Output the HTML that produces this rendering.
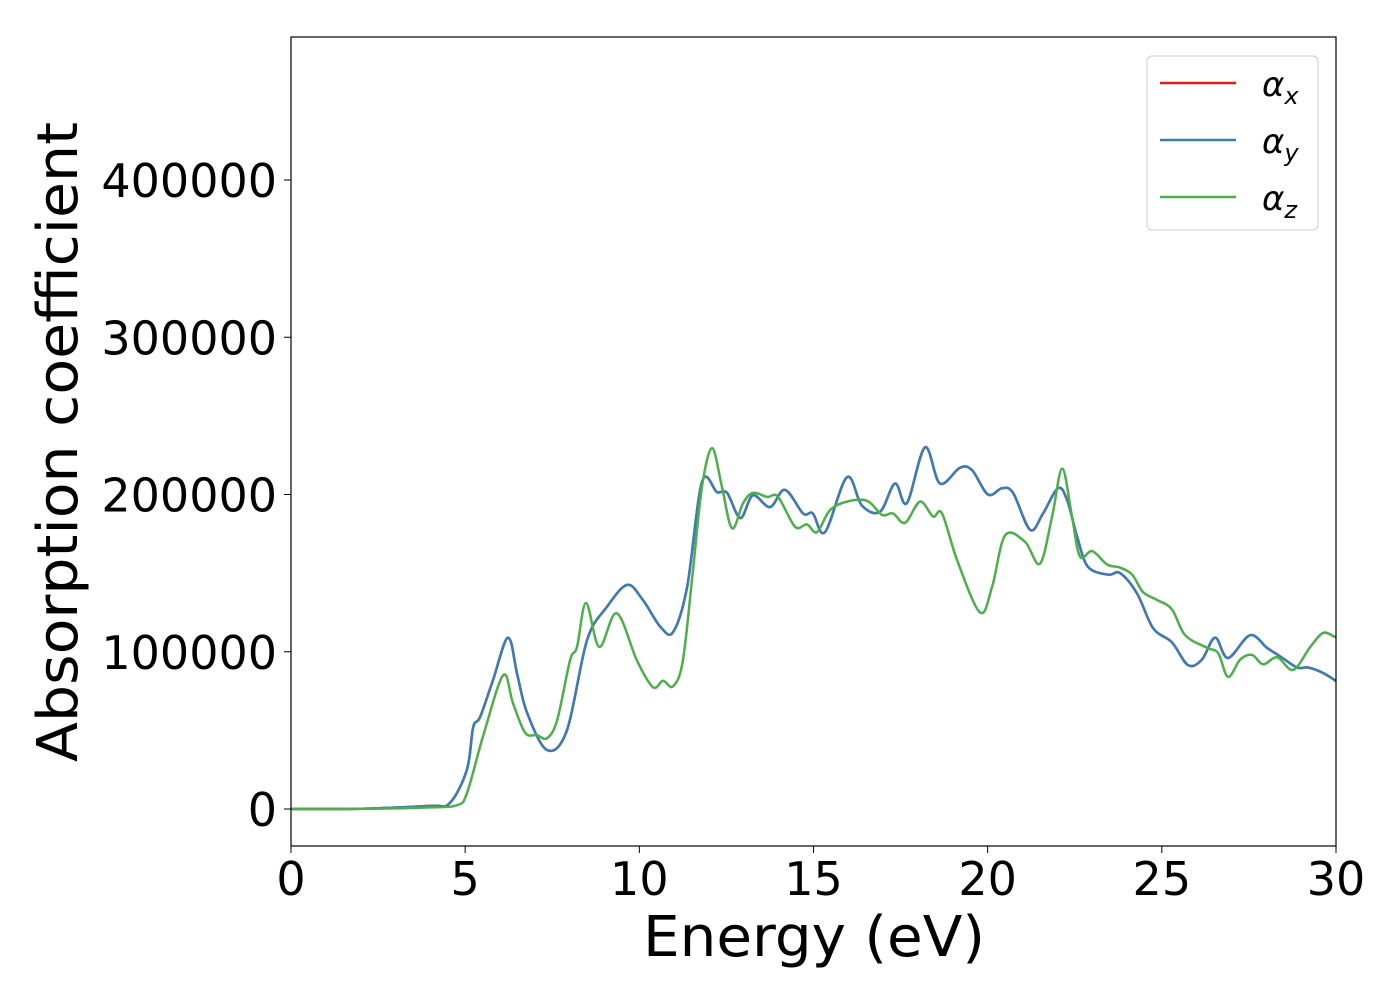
<!DOCTYPE html>
<html><head><meta charset="utf-8"><style>
body{margin:0;background:#fff;}
svg text{font-family:"DejaVu Sans","Liberation Sans",sans-serif;fill:#000;}
</style></head><body>
<svg id="chart" width="1400" height="1000" xmlns="http://www.w3.org/2000/svg">
<rect x="0" y="0" width="1400" height="1000" fill="#fff"/>
<g id="plot"></g>
<rect x="291" y="37" width="1045" height="809" fill="none" stroke="#000" stroke-width="1.2"/>
<g id="xticks"></g><g id="yticks"></g>
<text x="814" y="956" font-size="56" text-anchor="middle" textLength="342" lengthAdjust="spacingAndGlyphs">Energy (eV)</text>
<text transform="translate(77,442) rotate(-90)" font-size="56" text-anchor="middle" textLength="640" lengthAdjust="spacingAndGlyphs">Absorption coefficient</text>
<g>
<rect x="1147" y="56" width="171" height="174" rx="5" fill="#fff" fill-opacity="0.8" stroke="#ccc" stroke-width="1"/>
<line x1="1160" y1="83" x2="1236" y2="83" stroke="#e41a1c" stroke-width="2.5"/>
<text x="1262" y="96" font-size="34" font-style="italic">α<tspan font-size="24" dy="8">x</tspan></text>
<line x1="1160" y1="140" x2="1236" y2="140" stroke="#377eb8" stroke-width="2.5"/>
<text x="1262" y="153" font-size="34" font-style="italic">α<tspan font-size="24" dy="8">y</tspan></text>
<line x1="1160" y1="197" x2="1236" y2="197" stroke="#4daf4a" stroke-width="2.5"/>
<text x="1262" y="210" font-size="34" font-style="italic">α<tspan font-size="24" dy="8">z</tspan></text>
</g>
</svg>
<script>
const energyXY=[0,2,4,4.56,5.05,5.23,5.43,5.8,6.23,6.5,6.78,7.35,7.92,8.5,9.07,9.65,10.1,10.6,10.97,11.37,11.8,12.23,12.52,12.9,13.26,13.75,14.18,14.7,14.98,15.33,15.96,16.39,16.91,17.34,17.68,18.2,18.63,19.2,19.55,20.01,20.41,20.73,21.22,21.59,22.02,22.28,22.57,22.88,23.46,23.8,24.29,24.75,25.29,25.75,26.15,26.53,26.9,27.53,28.02,28.4,28.88,29.2,29.63,30.03];
const alphaX=[0,200,2000,3800,25000,52000,58500,82000,109000,85000,61000,37500,50000,107500,128500,142500,133000,116000,112500,141000,208000,201500,201000,185000,199500,192000,203000,188000,188000,176000,211000,193000,189000,207000,194500,230000,207000,217000,215500,200000,204000,201000,177500,188000,204000,196500,173000,154000,149000,150000,137000,115000,106000,91500,95000,109000,96000,110500,102500,97000,90000,90000,86500,81000];
const alphaY=alphaX.slice();
const energyZ=[0,2,4,4.77,5.05,5.51,6.09,6.37,6.72,7.06,7.35,7.64,8.01,8.21,8.47,8.85,9.35,9.93,10.39,10.68,10.97,11.25,11.54,11.8,12.09,12.37,12.66,12.98,13.26,13.67,13.98,14.47,14.81,15.1,15.47,15.96,16.54,16.97,17.28,17.63,18.06,18.43,18.69,19.12,19.78,20.13,20.5,21.07,21.5,21.85,22.14,22.42,22.65,23.0,23.43,23.8,24.15,24.46,24.86,25.29,25.67,26.3,26.62,26.9,27.25,27.59,27.91,28.31,28.77,29.26,29.63,29.97,30.03];
const alphaZ=[0,100,1000,2500,10000,46000,85000,67500,48500,47000,45000,56500,94500,103000,131000,103000,124500,94500,77500,81500,78000,94500,152000,205000,229500,205000,178500,194500,201000,198500,198500,179500,181000,176000,190000,195500,196000,187000,188000,182000,195500,186000,188000,158500,125000,141500,174000,170000,156000,186000,216500,186000,160500,164000,155500,153500,149000,138000,133000,127000,110500,102500,99000,84000,95000,98000,92000,96500,88500,103000,112000,109500,110500];
const xTicks=[0,5,10,15,20,25,30];
const yTicks=[0,100000,200000,300000,400000];
const xs=v=>291+v*(1045/30);
const ys=v=>809-v*(629/400000);
const NS="http://www.w3.org/2000/svg";
function smoothPath(ex,ey){
  const p=ex.map((e,i)=>[xs(e),ys(ey[i])]);
  let d="M"+p[0][0].toFixed(1)+","+p[0][1].toFixed(1);
  for(let i=0;i<p.length-1;i++){
    const p0=p[Math.max(0,i-1)],p1=p[i],p2=p[i+1],p3=p[Math.min(p.length-1,i+2)];
    const c1=[p1[0]+(p2[0]-p0[0])/6,p1[1]+(p2[1]-p0[1])/6];
    const c2=[p2[0]-(p3[0]-p1[0])/6,p2[1]-(p3[1]-p1[1])/6];
    d+="C"+c1.map(v=>v.toFixed(1))+" "+c2.map(v=>v.toFixed(1))+" "+p2.map(v=>v.toFixed(1));
  }
  return d;
}
const plot=document.getElementById("plot");
const clip=document.createElementNS(NS,"clipPath");clip.setAttribute("id","cp");
const cr=document.createElementNS(NS,"rect");cr.setAttribute("x",291);cr.setAttribute("y",37);cr.setAttribute("width",1045);cr.setAttribute("height",809);
clip.appendChild(cr);plot.appendChild(clip);
const series=[[energyXY,alphaX,"#e41a1c","series-alpha-x"],[energyXY,alphaY,"#377eb8","series-alpha-y"],[energyZ,alphaZ,"#4daf4a","series-alpha-z"]];
series.forEach(s=>{
  const path=document.createElementNS(NS,"path");
  path.setAttribute("d",smoothPath(s[0],s[1]));
  path.setAttribute("fill","none");path.setAttribute("stroke",s[2]);path.setAttribute("stroke-width","2.5");
  path.setAttribute("clip-path","url(#cp)");
  
  
  plot.appendChild(path);
});
const xg=document.getElementById("xticks");
xTicks.forEach(t=>{
  const l=document.createElementNS(NS,"line");
  l.setAttribute("x1",xs(t));l.setAttribute("x2",xs(t));l.setAttribute("y1",846);l.setAttribute("y2",853);l.setAttribute("stroke","#000");
  
  
  xg.appendChild(l);
  const tx=document.createElementNS(NS,"text");
  tx.setAttribute("x",xs(t));tx.setAttribute("y",895);tx.setAttribute("font-size","46");tx.setAttribute("text-anchor","middle");
  tx.textContent=t;
  
  
  xg.appendChild(tx);
});
const yg=document.getElementById("yticks");
yTicks.forEach(t=>{
  const l=document.createElementNS(NS,"line");
  l.setAttribute("x1",284);l.setAttribute("x2",291);l.setAttribute("y1",ys(t));l.setAttribute("y2",ys(t));l.setAttribute("stroke","#000");
  
  
  yg.appendChild(l);
  const tx=document.createElementNS(NS,"text");
  tx.setAttribute("x",277);tx.setAttribute("y",ys(t)+17);tx.setAttribute("font-size","46");tx.setAttribute("text-anchor","end");
  tx.textContent=t;
  
  
  yg.appendChild(tx);
});
</script>
</body></html>
